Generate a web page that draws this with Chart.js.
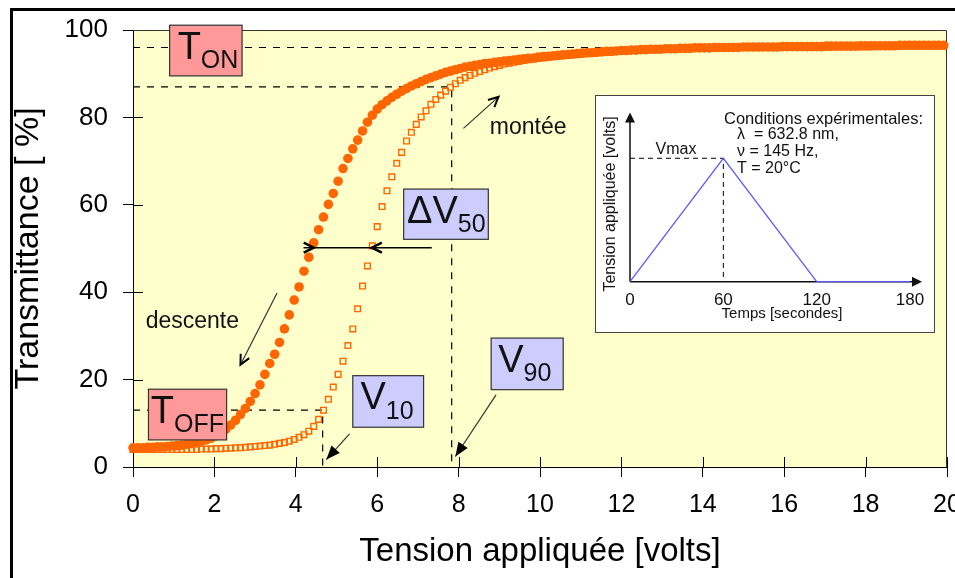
<!DOCTYPE html>
<html>
<head>
<meta charset="utf-8">
<script src="https://cdn.jsdelivr.net/npm/chart.js@4.4.1/dist/chart.umd.min.js"></script>
<style>
  html, body { margin: 0; padding: 0; background: #fff; }
  body { width: 955px; height: 578px; position: relative; overflow: hidden; }
  #frame { position: absolute; left: 10px; top: 8px; width: 1000px; height: 1000px; border-left: 3px solid #000; border-top: 3px solid #000; }
  #main { position: absolute; left: 0; top: 0; }
  #insetBox { position: absolute; left: 595px; top: 95px; width: 340px; height: 238px; box-sizing: border-box; border: 1px solid #444; background: #fff; }
  #inset { display: block; }
</style>
</head>
<body>
<div id="frame"></div>
<canvas id="main" width="955" height="578"></canvas>
<div id="insetBox"><canvas id="inset" width="338" height="236"></canvas></div>
<script>
// applied voltage (V), one sample per step of the ramp
const volts = [
  0, 0.12, 0.24, 0.36, 0.48, 0.6, 0.72, 0.84, 0.96, 1.08,
  1.2, 1.32, 1.44, 1.56, 1.68, 1.8, 1.92, 2.04, 2.16, 2.28,
  2.4, 2.52, 2.64, 2.76, 2.88, 3, 3.12, 3.24, 3.36, 3.48,
  3.6, 3.72, 3.84, 3.96, 4.08, 4.2, 4.32, 4.44, 4.56, 4.68,
  4.8, 4.92, 5.04, 5.16, 5.28, 5.4, 5.52, 5.64, 5.76, 5.88,
  6, 6.12, 6.24, 6.36, 6.48, 6.6, 6.72, 6.84, 6.96, 7.08,
  7.2, 7.32, 7.44, 7.56, 7.68, 7.8, 7.92, 8.04, 8.16, 8.28,
  8.4, 8.52, 8.64, 8.76, 8.88, 9, 9.12, 9.24, 9.36, 9.48,
  9.6, 9.72, 9.84, 9.96, 10.08, 10.2, 10.32, 10.44, 10.56, 10.68,
  10.8, 10.92, 11.04, 11.16, 11.28, 11.4, 11.52, 11.64, 11.76, 11.88,
  12, 12.12, 12.24, 12.36, 12.48, 12.6, 12.72, 12.84, 12.96, 13.08,
  13.2, 13.32, 13.44, 13.56, 13.68, 13.8, 13.92, 14.04, 14.16, 14.28,
  14.4, 14.52, 14.64, 14.76, 14.88, 15, 15.12, 15.24, 15.36, 15.48,
  15.6, 15.72, 15.84, 15.96, 16.08, 16.2, 16.32, 16.44, 16.56, 16.68,
  16.8, 16.92, 17.04, 17.16, 17.28, 17.4, 17.52, 17.64, 17.76, 17.88,
  18, 18.12, 18.24, 18.36, 18.48, 18.6, 18.72, 18.84, 18.96, 19.08,
  19.2, 19.32, 19.44, 19.56, 19.68, 19.8, 19.92
];

// transmittance (%) on the way down (filled dots)
const descente = [
  4.4, 4.4, 4.4, 4.5, 4.5, 4.6, 4.6, 4.7, 4.8, 4.9,
  5.0, 5.2, 5.4, 5.6, 5.9, 6.2, 6.6, 7.1, 7.8, 8.6,
  9.6, 10.7, 12.0, 13.4, 15.0, 16.8, 18.8, 21.2, 23.7, 25.8,
  28.5, 31.6, 34.8, 38.2, 41.2, 44.8, 48.0, 51.3, 54.3, 57.2,
  60.1, 62.6, 65.4, 68.3, 70.6, 72.8, 74.8, 76.9, 78.9, 80.5,
  81.9, 82.9, 83.8, 84.6, 85.3, 86.0, 86.6, 87.2, 87.7, 88.2,
  88.7, 89.1, 89.5, 89.9, 90.3, 90.6, 90.9, 91.2, 91.5, 91.7,
  91.9, 92.1, 92.3, 92.4, 92.6, 92.7, 92.9, 93.0, 93.1, 93.3,
  93.4, 93.5, 93.6, 93.8, 93.9, 94.0, 94.1, 94.2, 94.3, 94.4,
  94.5, 94.6, 94.7, 94.8, 94.8, 94.9, 95.0, 95.1, 95.1, 95.2,
  95.3, 95.3, 95.4, 95.4, 95.5, 95.5, 95.6, 95.6, 95.6, 95.7,
  95.7, 95.7, 95.8, 95.8, 95.8, 95.9, 95.9, 95.9, 95.9, 96.0,
  96.0, 96.0, 96.0, 96.0, 96.0, 96.1, 96.1, 96.1, 96.1, 96.1,
  96.1, 96.1, 96.1, 96.2, 96.2, 96.2, 96.2, 96.2, 96.2, 96.2,
  96.2, 96.2, 96.3, 96.3, 96.3, 96.3, 96.3, 96.3, 96.3, 96.4,
  96.4, 96.4, 96.4, 96.4, 96.4, 96.4, 96.4, 96.5, 96.5, 96.5,
  96.5, 96.5, 96.5, 96.5, 96.5, 96.5, 96.5
];

// transmittance (%) on the way up (open squares)
const montee = [
  4.0, 4.0, 4.0, 4.0, 4.0, 4.0, 4.0, 4.0, 4.0, 4.0,
  4.0, 4.0, 4.0, 4.0, 4.1, 4.1, 4.1, 4.2, 4.2, 4.3,
  4.3, 4.4, 4.4, 4.5, 4.6, 4.7, 4.8, 4.9, 5.0, 5.2,
  5.4, 5.6, 5.9, 6.3, 6.8, 7.4, 8.2, 9.3, 10.9, 13.0,
  15.5, 18.3, 21.2, 24.2, 27.8, 31.6, 36.2, 41.4, 46.0, 50.6,
  55.0, 59.6, 63.2, 66.4, 69.5, 72.0, 74.6, 76.6, 78.4, 80.1,
  81.5, 83.0, 84.1, 85.1, 86.0, 86.9, 87.7, 88.5, 89.1, 89.6,
  90.1, 90.5, 90.9, 91.3, 91.6, 91.9, 92.2, 92.4, 92.6, 92.8,
  93.0, 93.2, 93.3, 93.5, 93.6, 93.7, 93.9, 94.0, 94.1, 94.2,
  94.3, 94.4, 94.5, 94.6, 94.7, 94.8, 94.9, 94.9, 95.0, 95.1,
  95.2, 95.2, 95.3, 95.3, 95.4, 95.4, 95.5, 95.5, 95.5, 95.6,
  95.6, 95.6, 95.7, 95.7, 95.7, 95.8, 95.8, 95.8, 95.8, 95.9,
  95.9, 95.9, 95.9, 95.9, 96.0, 96.0, 96.0, 96.0, 96.0, 96.0,
  96.1, 96.1, 96.1, 96.1, 96.1, 96.1, 96.1, 96.1, 96.1, 96.1,
  96.1, 96.1, 96.1, 96.1, 96.2, 96.2, 96.2, 96.2, 96.2, 96.2,
  96.2, 96.2, 96.3, 96.3, 96.3, 96.3, 96.3, 96.3, 96.4, 96.4,
  96.4, 96.4, 96.4, 96.4, 96.4, 96.4, 96.4
];

// reference levels marked with dashed lines
const tOn = 96, t90 = 87, tOff = 13;
const v10 = 4.66, v90 = 7.83;

// inset: voltage ramp vs time
const rampTime = [0, 60, 120, 180];
const rampVolts = [0, 1, 0, 0];

const FONT = "'Liberation Sans', Arial, Helvetica, sans-serif";
const fnt = px => px + 'px ' + FONT;

function arrow(ctx, x1, y1, x2, y2, kind) {
  const a = Math.atan2(y2 - y1, x2 - x1);
  ctx.save();
  ctx.strokeStyle = '#333';
  ctx.lineWidth = 1.2;
  ctx.beginPath(); ctx.moveTo(x1, y1); ctx.lineTo(x2, y2); ctx.stroke();
  if (kind === 'open') {
    ctx.strokeStyle = '#000';
    ctx.lineWidth = 2;
    ctx.beginPath();
    ctx.moveTo(x2 - 11 * Math.cos(a - 0.45), y2 - 11 * Math.sin(a - 0.45));
    ctx.lineTo(x2, y2);
    ctx.lineTo(x2 - 11 * Math.cos(a + 0.45), y2 - 11 * Math.sin(a + 0.45));
    ctx.stroke();
  } else {
    ctx.fillStyle = '#000';
    ctx.beginPath();
    ctx.moveTo(x2, y2);
    ctx.lineTo(x2 - 15 * Math.cos(a - 0.38), y2 - 15 * Math.sin(a - 0.38));
    ctx.lineTo(x2 - 15 * Math.cos(a + 0.38), y2 - 15 * Math.sin(a + 0.38));
    ctx.closePath();
    ctx.fill();
  }
  ctx.restore();
}

function chevron(ctx, x, y, dir) {
  ctx.save();
  ctx.strokeStyle = '#000';
  ctx.lineWidth = 2.5;
  ctx.beginPath();
  ctx.moveTo(x + dir * 10, y - 5);
  ctx.lineTo(x, y);
  ctx.lineTo(x + dir * 10, y + 5);
  ctx.stroke();
  ctx.restore();
}

function tag(ctx, l, t, r, b, fill, main, sub, pad) {
  ctx.save();
  ctx.fillStyle = fill;
  ctx.fillRect(l, t, r - l, b - t);
  ctx.strokeStyle = '#333';
  ctx.lineWidth = 1.2;
  ctx.strokeRect(l, t, r - l, b - t);
  ctx.fillStyle = '#111';
  ctx.textAlign = 'left';
  ctx.textBaseline = 'alphabetic';
  ctx.font = fnt(38);
  ctx.fillText(main, l + pad, t + 33.5);
  const w = ctx.measureText(main).width;
  ctx.font = fnt(25);
  ctx.fillText(sub, l + pad + w, t + 43);
  ctx.restore();
}

const plotDecor = {
  id: 'plotDecor',
  beforeDraw(chart) {
    const {ctx, chartArea: ca} = chart;
    ctx.save();
    ctx.fillStyle = '#ffffcc';
    ctx.fillRect(ca.left, ca.top, ca.right - ca.left, ca.bottom - ca.top);
    ctx.restore();
  },
  beforeDatasetsDraw(chart) {
    const {ctx, chartArea: ca, scales: {x, y}} = chart;
    ctx.save();
    // inner half of the tick marks
    ctx.strokeStyle = '#000';
    ctx.lineWidth = 1;
    ctx.beginPath();
    x.ticks.forEach(t => { const px = Math.round(x.getPixelForValue(t.value)) + 0.5; ctx.moveTo(px, ca.bottom); ctx.lineTo(px, ca.bottom - 10); });
    y.ticks.forEach(t => { const py = Math.round(y.getPixelForValue(t.value)) + 0.5; ctx.moveTo(ca.left, py); ctx.lineTo(ca.left + 10, py); });
    ctx.stroke();
    // plot frame top / right
    ctx.strokeStyle = '#333';
    ctx.beginPath();
    ctx.moveTo(ca.left, ca.top + 0.5); ctx.lineTo(ca.right - 0.5, ca.top + 0.5); ctx.lineTo(ca.right - 0.5, ca.bottom);
    ctx.stroke();
    // dashed guide lines
    ctx.strokeStyle = '#000';
    ctx.lineWidth = 1.2;
    ctx.setLineDash([7, 7]);
    ctx.beginPath();
    ctx.moveTo(x.getPixelForValue(0), y.getPixelForValue(tOn)); ctx.lineTo(x.getPixelForValue(14.73), y.getPixelForValue(tOn));
    ctx.moveTo(x.getPixelForValue(0), y.getPixelForValue(t90)); ctx.lineTo(x.getPixelForValue(v90), y.getPixelForValue(t90));
    ctx.lineTo(x.getPixelForValue(v90), y.getPixelForValue(0));
    ctx.moveTo(x.getPixelForValue(0), y.getPixelForValue(tOff)); ctx.lineTo(x.getPixelForValue(v10), y.getPixelForValue(tOff));
    ctx.lineTo(x.getPixelForValue(v10), y.getPixelForValue(0));
    ctx.stroke();
    ctx.restore();
  },
  afterDatasetsDraw(chart) {
    const {ctx, scales: {x, y}} = chart;
    const X = v => x.getPixelForValue(v), Y = v => y.getPixelForValue(v);

    tag(ctx, X(0.90), Y(101.1), X(2.68), Y(89.5), '#ff9999', 'T', 'ON', 8);
    tag(ctx, X(0.38), Y(17.8), X(2.30), Y(6.2), '#ff9999', 'T', 'OFF', 2.3);
    tag(ctx, X(5.40), Y(20.9), X(7.14), Y(9.1), '#ccccff', 'V', '10', 7.7);
    tag(ctx, X(8.80), Y(29.5), X(10.57), Y(17.7), '#ccccff', 'V', '90', 7);
    tag(ctx, X(6.65), Y(63.6), X(8.73), Y(52.1), '#ccccff', '\u0394V', '50', 3.4);

    arrow(ctx, X(3.54), Y(39.8), X(2.64), Y(23.4), 'open');
    arrow(ctx, X(8.12), Y(77.5), X(8.98), Y(84.7), 'open');
    arrow(ctx, X(5.32), Y(7.6), X(4.75), Y(1.7), 'filled');
    arrow(ctx, X(8.92), Y(16.5), X(7.92), Y(2.4), 'filled');

    // delta V50 bar between the two branches
    ctx.save();
    ctx.strokeStyle = '#000';
    ctx.lineWidth = 1.5;
    ctx.beginPath();
    ctx.moveTo(X(7.34), Y(50.2)); ctx.lineTo(X(4.19), Y(50.2));
    ctx.stroke();
    ctx.restore();
    chevron(ctx, X(4.44), Y(50.2), -1);
    chevron(ctx, X(5.87), Y(50.2), 1);

    ctx.save();
    ctx.fillStyle = '#111';
    ctx.font = fnt(23);
    ctx.textAlign = 'center';
    ctx.textBaseline = 'alphabetic';
    ctx.fillText('descente', X(1.458), Y(31.8));
    ctx.fillText('montée', X(9.71), Y(76.2));
    ctx.restore();
  }
};

const mainChart = new Chart(document.getElementById('main'), {
  type: 'scatter',
  data: {
    datasets: [
      {
        label: 'descente',
        data: volts.map((v, i) => ({x: v, y: descente[i]})),
        pointStyle: 'circle',
        pointRadius: 4.8,
        pointBackgroundColor: '#ff6600',
        pointBorderWidth: 0,
        order: 2,
        clip: false
      },
      {
        label: 'montée',
        data: volts.map((v, i) => ({x: v, y: montee[i]})),
        pointStyle: 'rect',
        pointRadius: 4,
        pointBackgroundColor: 'rgba(0,0,0,0)',
        pointBorderColor: '#ff6600',
        pointBorderWidth: 1.4,
        order: 1,
        clip: false
      }
    ]
  },
  options: {
    responsive: false,
    animation: false,
    events: [],
    layout: {padding: {left: 0, top: 30, right: 8, bottom: 0}},
    plugins: {legend: {display: false}, tooltip: {enabled: false}},
    scales: {
      x: {
        type: 'linear', min: 0, max: 20,
        ticks: {stepSize: 2, color: '#000', font: {family: FONT, size: 25}, padding: 13, maxRotation: 0},
        grid: {drawOnChartArea: false, tickLength: 10, color: '#000', lineWidth: 1},
        border: {color: '#000', width: 1},
        title: {display: true, text: 'Tension appliquée [volts]', color: '#000', font: {family: FONT, size: 33}, padding: {top: 0, bottom: 6}},
        afterFit: s => { s.height = 111; s.paddingLeft = 0; s.paddingRight = 0; }
      },
      y: {
        type: 'linear', min: 0, max: 100,
        ticks: {stepSize: 20, color: '#000', font: {family: FONT, size: 26}, padding: 15},
        grid: {drawOnChartArea: false, tickLength: 10, color: '#000', lineWidth: 1},
        border: {color: '#000', width: 1},
        title: {display: true, text: 'Transmittance [ %]', color: '#000', font: {family: FONT, size: 34}, padding: {top: 8, bottom: 0}},
        afterFit: s => { s.width = 133; s.paddingTop = 0; s.paddingBottom = 0; }
      }
    }
  },
  plugins: [plotDecor]
});

const insetDecor = {
  id: 'insetDecor',
  beforeDatasetsDraw(chart) {
    const {ctx, scales: {x, y}} = chart;
    const x0 = x.getPixelForValue(0), y0 = y.getPixelForValue(0);
    const xTip = x.getPixelForValue(180) + 12, yTip = y.getPixelForValue(1.37);
    ctx.save();
    // axes with arrow heads
    ctx.strokeStyle = '#111';
    ctx.fillStyle = '#111';
    ctx.lineWidth = 1.5;
    ctx.beginPath();
    ctx.moveTo(x0, y0); ctx.lineTo(xTip - 8, y0);
    ctx.moveTo(x0, y0); ctx.lineTo(x0, yTip + 8);
    ctx.stroke();
    ctx.beginPath();
    ctx.moveTo(xTip, y0); ctx.lineTo(xTip - 10, y0 - 5); ctx.lineTo(xTip - 10, y0 + 5); ctx.closePath();
    ctx.moveTo(x0, yTip); ctx.lineTo(x0 - 5, yTip + 10); ctx.lineTo(x0 + 5, yTip + 10); ctx.closePath();
    ctx.fill();
    // dashed Vmax guides
    ctx.lineWidth = 1;
    ctx.strokeStyle = '#000';
    ctx.setLineDash([5, 4]);
    ctx.beginPath();
    ctx.moveTo(x0, y.getPixelForValue(1)); ctx.lineTo(x.getPixelForValue(60), y.getPixelForValue(1));
    ctx.lineTo(x.getPixelForValue(60), y0);
    ctx.stroke();
    ctx.setLineDash([]);
    // texts
    ctx.fillStyle = '#111';
    ctx.textBaseline = 'middle';
    ctx.font = fnt(16);
    ctx.textAlign = 'center';
    ctx.fillText('Vmax', 80, 54);
    ctx.font = fnt(15);
    ctx.fillText('Temps [secondes]', 186, 218);
    ctx.font = fnt(16.5);
    ctx.textAlign = 'right';
    ctx.fillText('Conditions expérimentales:', 327, 23);
    ctx.font = fnt(16);
    ctx.textAlign = 'left';
    ctx.fillText('\u03bb  = 632.8 nm,', 141, 39);
    ctx.fillText('\u03bd = 145 Hz,', 141, 55.7);
    ctx.fillText('T = 20°C', 141, 72.3);
    ctx.translate(14.7, 108);
    ctx.rotate(-Math.PI / 2);
    ctx.textAlign = 'center';
    ctx.fillText('Tension appliquée [volts]', 0, 0);
    ctx.restore();
  }
};

const insetChart = new Chart(document.getElementById('inset'), {
  type: 'scatter',
  data: {
    datasets: [{
      label: 'rampe',
      data: rampTime.map((t, i) => ({x: t, y: rampVolts[i]})),
      showLine: true,
      borderColor: '#5a5aff',
      borderWidth: 1.3,
      pointRadius: 0,
      clip: false
    }]
  },
  options: {
    responsive: false,
    animation: false,
    events: [],
    layout: {padding: {left: 34, top: 16.6, right: 24, bottom: 0}},
    plugins: {legend: {display: false}, tooltip: {enabled: false}},
    scales: {
      x: {
        type: 'linear', min: 0, max: 180,
        ticks: {stepSize: 60, color: '#111', font: {family: FONT, size: 17}, padding: 0, maxRotation: 0},
        grid: {display: false},
        border: {display: false},
        afterFit: s => { s.height = 50.3; s.paddingLeft = 0; s.paddingRight = 0; }
      },
      y: {type: 'linear', min: 0, max: 1.37, display: false}
    }
  },
  plugins: [insetDecor]
});
</script>
</body>
</html>
